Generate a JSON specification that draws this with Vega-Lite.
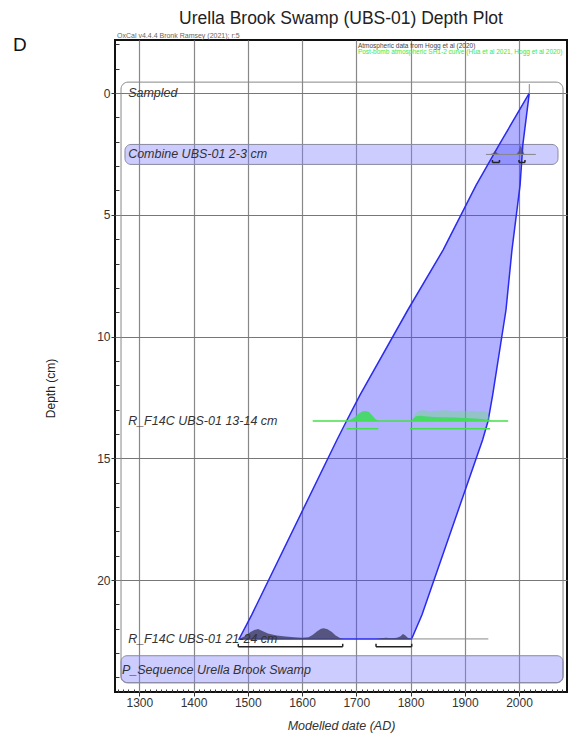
{
  "$schema": "https://vega.github.io/schema/vega-lite/v6.json",
  "width": 452,
  "height": 652,
  "autosize": {"type": "none"},
  "padding": {"left": 115, "top": 40, "right": 20, "bottom": 43},
  "background": "white",
  "config": {"font": "Liberation Sans", "view": {"stroke": "#111", "strokeWidth": 2}},
  "title": {"text": "Urella Brook Swamp (UBS-01) Depth Plot", "fontSize": 17.5, "fontWeight": "normal", "font": "Liberation Sans", "color": "#222", "anchor": "middle", "frame": "group", "offset": 4},
  "datasets": {
    "outer": [{"year": 1266.3, "year_end": 2081.2, "depth": -0.45, "depth_end": 24.22}],
    "boxes": [
      {"year": 1273.6, "year_end": 2071.9, "depth": 2.11, "depth_end": 2.93},
      {"year": 1266.3, "year_end": 2081.2, "depth": 23.11, "depth_end": 24.22}
    ],
    "envelope": [
      {"depth": 0, "year": 2019, "year_end": 2019},
      {"depth": 2.14, "year": 1963, "year_end": 2007},
      {"depth": 3.78, "year": 1921, "year_end": 2002},
      {"depth": 6.45, "year": 1860, "year_end": 1987},
      {"depth": 8.91, "year": 1795, "year_end": 1976},
      {"depth": 12.4, "year": 1707, "year_end": 1951.5},
      {"depth": 13.47, "year": 1682, "year_end": 1943},
      {"depth": 14.24, "year": 1664.5, "year_end": 1933},
      {"depth": 21.44, "year": 1507, "year_end": 1821},
      {"depth": 22.42, "year": 1484, "year_end": 1802}
    ],
    "green_light": [
      {"year": 1803, "depth": 13.47, "depth_end": 13.47},
      {"year": 1808, "depth": 13.17, "depth_end": 13.47},
      {"year": 1815, "depth": 13.05, "depth_end": 13.47},
      {"year": 1825, "depth": 13.03, "depth_end": 13.47},
      {"year": 1835, "depth": 13.07, "depth_end": 13.47},
      {"year": 1850, "depth": 13.05, "depth_end": 13.47},
      {"year": 1865, "depth": 13.03, "depth_end": 13.47},
      {"year": 1880, "depth": 13.07, "depth_end": 13.47},
      {"year": 1895, "depth": 13.05, "depth_end": 13.47},
      {"year": 1910, "depth": 13.06, "depth_end": 13.47},
      {"year": 1925, "depth": 13.07, "depth_end": 13.47},
      {"year": 1940, "depth": 13.09, "depth_end": 13.47},
      {"year": 1946, "depth": 13.37, "depth_end": 13.47},
      {"year": 1948, "depth": 13.47, "depth_end": 13.47}
    ],
    "green_dist": [
      {"year": 1680, "depth": 13.47, "depth_end": 13.47},
      {"year": 1688, "depth": 13.43, "depth_end": 13.47},
      {"year": 1695, "depth": 13.35, "depth_end": 13.47},
      {"year": 1700, "depth": 13.25, "depth_end": 13.47},
      {"year": 1706, "depth": 13.14, "depth_end": 13.47},
      {"year": 1712, "depth": 13.07, "depth_end": 13.47},
      {"year": 1718, "depth": 13.06, "depth_end": 13.47},
      {"year": 1724, "depth": 13.11, "depth_end": 13.47},
      {"year": 1730, "depth": 13.25, "depth_end": 13.47},
      {"year": 1735, "depth": 13.39, "depth_end": 13.47},
      {"year": 1740, "depth": 13.45, "depth_end": 13.47},
      {"year": 1745, "depth": 13.47, "depth_end": 13.47},
      {"year": 1800, "depth": 13.47, "depth_end": 13.47},
      {"year": 1804, "depth": 13.39, "depth_end": 13.47},
      {"year": 1810, "depth": 13.27, "depth_end": 13.47},
      {"year": 1818, "depth": 13.25, "depth_end": 13.47},
      {"year": 1830, "depth": 13.28, "depth_end": 13.47},
      {"year": 1845, "depth": 13.3, "depth_end": 13.47},
      {"year": 1860, "depth": 13.32, "depth_end": 13.47},
      {"year": 1880, "depth": 13.33, "depth_end": 13.47},
      {"year": 1900, "depth": 13.35, "depth_end": 13.47},
      {"year": 1920, "depth": 13.37, "depth_end": 13.47},
      {"year": 1935, "depth": 13.4, "depth_end": 13.47},
      {"year": 1945, "depth": 13.45, "depth_end": 13.47},
      {"year": 1950, "depth": 13.47, "depth_end": 13.47}
    ],
    "dark_dist": [
      {"year": 1484, "depth": 22.42, "depth_end": 22.42},
      {"year": 1495, "depth": 22.3, "depth_end": 22.42},
      {"year": 1505, "depth": 22.14, "depth_end": 22.42},
      {"year": 1512, "depth": 22.05, "depth_end": 22.42},
      {"year": 1519, "depth": 22.01, "depth_end": 22.42},
      {"year": 1527, "depth": 22.09, "depth_end": 22.42},
      {"year": 1537, "depth": 22.2, "depth_end": 22.42},
      {"year": 1553, "depth": 22.28, "depth_end": 22.42},
      {"year": 1570, "depth": 22.32, "depth_end": 22.42},
      {"year": 1585, "depth": 22.35, "depth_end": 22.42},
      {"year": 1600, "depth": 22.37, "depth_end": 22.42},
      {"year": 1612, "depth": 22.35, "depth_end": 22.42},
      {"year": 1620, "depth": 22.25, "depth_end": 22.42},
      {"year": 1628, "depth": 22.1, "depth_end": 22.42},
      {"year": 1635, "depth": 22.0, "depth_end": 22.42},
      {"year": 1640, "depth": 21.98, "depth_end": 22.42},
      {"year": 1647, "depth": 22.02, "depth_end": 22.42},
      {"year": 1655, "depth": 22.14, "depth_end": 22.42},
      {"year": 1662, "depth": 22.28, "depth_end": 22.42},
      {"year": 1670, "depth": 22.38, "depth_end": 22.42},
      {"year": 1676, "depth": 22.42, "depth_end": 22.42},
      {"year": 1737, "depth": 22.42, "depth_end": 22.42},
      {"year": 1745, "depth": 22.39, "depth_end": 22.42},
      {"year": 1755, "depth": 22.37, "depth_end": 22.42},
      {"year": 1765, "depth": 22.39, "depth_end": 22.42},
      {"year": 1775, "depth": 22.37, "depth_end": 22.42},
      {"year": 1781, "depth": 22.32, "depth_end": 22.42},
      {"year": 1786, "depth": 22.22, "depth_end": 22.42},
      {"year": 1790, "depth": 22.27, "depth_end": 22.42},
      {"year": 1795, "depth": 22.37, "depth_end": 22.42},
      {"year": 1801, "depth": 22.42, "depth_end": 22.42}
    ],
    "combine_dist": [
      {"year": 1945, "depth": 2.52, "depth_end": 2.52},
      {"year": 1952, "depth": 2.47, "depth_end": 2.52},
      {"year": 1956, "depth": 2.37, "depth_end": 2.52},
      {"year": 1960, "depth": 2.47, "depth_end": 2.52},
      {"year": 1966, "depth": 2.52, "depth_end": 2.52},
      {"year": 1995, "depth": 2.52, "depth_end": 2.52},
      {"year": 2000, "depth": 2.37, "depth_end": 2.52},
      {"year": 2003, "depth": 2.14, "depth_end": 2.52},
      {"year": 2006, "depth": 2.32, "depth_end": 2.52},
      {"year": 2010, "depth": 2.5, "depth_end": 2.52},
      {"year": 2013, "depth": 2.52, "depth_end": 2.52}
    ],
    "gray_lines": [
      {"year": 1939, "year_end": 2031, "depth": 2.52, "depth_end": 2.52},
      {"year": 1802, "year_end": 1943.5, "depth": 22.42, "depth_end": 22.42},
      {"year": 2019, "year_end": 2019, "depth": -0.37, "depth_end": 0.04}
    ],
    "green_lines": [
      {"year": 1619.7, "year_end": 1980, "depth": 13.47, "depth_end": 13.47},
      {"year": 1682, "year_end": 1740.6, "depth": 13.79, "depth_end": 13.79},
      {"year": 1799, "year_end": 1946.6, "depth": 13.79, "depth_end": 13.79}
    ],
    "black_lines": [
      {"year": 1482.5, "year_end": 1675, "depth": 22.74, "depth_end": 22.74},
      {"year": 1482.5, "year_end": 1482.5, "depth": 22.62, "depth_end": 22.74},
      {"year": 1675, "year_end": 1675, "depth": 22.62, "depth_end": 22.74},
      {"year": 1736.4, "year_end": 1802.2, "depth": 22.74, "depth_end": 22.74},
      {"year": 1736.4, "year_end": 1736.4, "depth": 22.62, "depth_end": 22.74},
      {"year": 1802.2, "year_end": 1802.2, "depth": 22.62, "depth_end": 22.74},
      {"year": 1951, "year_end": 1964, "depth": 2.85, "depth_end": 2.85},
      {"year": 1951, "year_end": 1951, "depth": 2.75, "depth_end": 2.85},
      {"year": 1964, "year_end": 1964, "depth": 2.75, "depth_end": 2.85},
      {"year": 2000, "year_end": 2011, "depth": 2.85, "depth_end": 2.85},
      {"year": 2000, "year_end": 2000, "depth": 2.75, "depth_end": 2.85},
      {"year": 2011, "year_end": 2011, "depth": 2.75, "depth_end": 2.85}
    ],
    "labels": [
      {"year": 1279.4, "depth": 0, "label": "Sampled"},
      {"year": 1279.4, "depth": 2.52, "label": "Combine UBS-01 2-3 cm"},
      {"year": 1279.4, "depth": 13.45, "label": "R_F14C UBS-01 13-14 cm"},
      {"year": 1279.4, "depth": 22.42, "label": "R_F14C UBS-01 21-24 cm"},
      {"year": 1268, "depth": 23.7, "label": "P_Sequence Urella Brook Swamp"}
    ],
    "panel": [{"year": 1080, "depth": -1.97, "label": "D"}],
    "credit": [{"year": 1259, "depth": -2.36, "label": "OxCal v4.4.4 Bronk Ramsey (2021); r:5"}],
    "note": [{"year": 1703, "depth": -1.95, "label": "Atmospheric data from Hogg et al (2020)"}],
    "note_green": [{"year": 1703, "depth": -1.68, "label": "Post-bomb atmospheric SH1-2 curve (Hua et al 2021, Hogg et al 2020)"}]
  },
  "layer": [
    {
      "data": {"name": "outer"},
      "mark": {"type": "rect", "fill": null, "stroke": "#888", "strokeWidth": 1, "cornerRadius": 7},
      "encoding": {
        "x": {"field": "year", "type": "quantitative",
          "scale": {"domain": [1255.2, 2088.5], "nice": false, "zero": false},
          "axis": {
            "title": "Modelled date (AD)", "titleFontStyle": "italic", "titleFontWeight": "normal", "titleFontSize": 12.5, "titleColor": "#333", "titleY": 33, "titleBaseline": "middle",
            "tickCount": 1000,
            "values": [1260,1270,1280,1290,1300,1310,1320,1330,1340,1350,1360,1370,1380,1390,1400,1410,1420,1430,1440,1450,1460,1470,1480,1490,1500,1510,1520,1530,1540,1550,1560,1570,1580,1590,1600,1610,1620,1630,1640,1650,1660,1670,1680,1690,1700,1710,1720,1730,1740,1750,1760,1770,1780,1790,1800,1810,1820,1830,1840,1850,1860,1870,1880,1890,1900,1910,1920,1930,1940,1950,1960,1970,1980,1990,2000,2010,2020,2030,2040,2050,2060,2070,2080],
            "format": "d",
            "labelExpr": "datum.value % 100 === 0 ? datum.label : ''",
            "labelFontSize": 12, "labelColor": "#333", "labelOverlap": false, "labelFlush": false, "labelPadding": 1,
            "grid": true, "gridColor": "#888", "gridWidth": 1.2,
            "gridOpacity": {"condition": {"test": "datum.value % 100 === 0", "value": 1}, "value": 0},
            "tickColor": "#333",
            "tickSize": {"condition": {"test": "datum.value % 100 === 0", "value": 4}, "value": -3},
            "domain": false
          }
        },
        "x2": {"field": "year_end"},
        "y": {"field": "depth", "type": "quantitative",
          "scale": {"domain": [-2.18, 24.6], "reverse": true, "nice": false, "zero": false},
          "axis": {
            "title": "Depth (cm)", "titleFontWeight": "normal", "titleFontSize": 12, "titleColor": "#222",
            "titleX": -65, "titleY": 348, "titleAngle": 270, "titleAlign": "center", "titleBaseline": "middle",
            "tickCount": 1000,
            "values": [-2,-1.5,-1,-0.5,0,0.5,1,1.5,2,2.5,3,3.5,4,4.5,5,5.5,6,6.5,7,7.5,8,8.5,9,9.5,10,10.5,11,11.5,12,12.5,13,13.5,14,14.5,15,15.5,16,16.5,17,17.5,18,18.5,19,19.5,20,20.5,21,21.5,22,22.5,23,23.5,24,24.5],
            "format": "d",
            "labelExpr": "datum.value % 5 === 0 ? datum.label : ''",
            "labelFontSize": 12, "labelColor": "#333", "labelOverlap": false, "labelFlush": false, "labelPadding": 1,
            "grid": true, "gridColor": "#777", "gridWidth": 1.2,
            "gridOpacity": {"condition": {"test": "datum.value % 5 === 0", "value": 1}, "value": 0},
            "tickColor": "#333",
            "tickSize": {"condition": {"test": "datum.value % 5 === 0", "value": 4}, "value": -4},
            "domain": false
          }
        },
        "y2": {"field": "depth_end"}
      }
    },
    {
      "data": {"name": "boxes"},
      "mark": {"type": "rect", "fill": "#8080ff", "fillOpacity": 0.4, "stroke": "#8a8aa0", "strokeWidth": 1, "cornerRadius": 6},
      "encoding": {
        "x": {"field": "year", "type": "quantitative"},
        "x2": {"field": "year_end"},
        "y": {"field": "depth", "type": "quantitative"},
        "y2": {"field": "depth_end"}
      }
    },
    {
      "data": {"name": "envelope"},
      "mark": {"type": "area", "orient": "horizontal", "fill": "#4646ff", "fillOpacity": 0.42, "stroke": "#2a2aee", "strokeWidth": 1.5},
      "encoding": {
        "y": {"field": "depth", "type": "quantitative"},
        "x": {"field": "year", "type": "quantitative"},
        "x2": {"field": "year_end"}
      }
    },
    {
      "data": {"name": "green_light"},
      "mark": {"type": "area", "orient": "vertical", "fill": "#66dd77", "fillOpacity": 0.4},
      "encoding": {
        "x": {"field": "year", "type": "quantitative"},
        "y": {"field": "depth", "type": "quantitative"},
        "y2": {"field": "depth_end"}
      }
    },
    {
      "data": {"name": "green_dist"},
      "mark": {"type": "area", "orient": "vertical", "fill": "#3fdc60", "fillOpacity": 0.9},
      "encoding": {
        "x": {"field": "year", "type": "quantitative"},
        "y": {"field": "depth", "type": "quantitative"},
        "y2": {"field": "depth_end"}
      }
    },
    {
      "data": {"name": "dark_dist"},
      "mark": {"type": "area", "orient": "vertical", "fill": "#45456a", "fillOpacity": 0.85},
      "encoding": {
        "x": {"field": "year", "type": "quantitative"},
        "y": {"field": "depth", "type": "quantitative"},
        "y2": {"field": "depth_end"}
      }
    },
    {
      "data": {"name": "combine_dist"},
      "mark": {"type": "area", "orient": "vertical", "fill": "#45456a", "fillOpacity": 0.7},
      "encoding": {
        "x": {"field": "year", "type": "quantitative"},
        "y": {"field": "depth", "type": "quantitative"},
        "y2": {"field": "depth_end"}
      }
    },
    {
      "data": {"name": "gray_lines"},
      "mark": {"type": "rule", "color": "#888", "strokeWidth": 1},
      "encoding": {
        "x": {"field": "year", "type": "quantitative"},
        "x2": {"field": "year_end"},
        "y": {"field": "depth", "type": "quantitative"},
        "y2": {"field": "depth_end"}
      }
    },
    {
      "data": {"name": "green_lines"},
      "mark": {"type": "rule", "color": "#44e04a", "strokeWidth": 1.5},
      "encoding": {
        "x": {"field": "year", "type": "quantitative"},
        "x2": {"field": "year_end"},
        "y": {"field": "depth", "type": "quantitative"},
        "y2": {"field": "depth_end"}
      }
    },
    {
      "data": {"name": "black_lines"},
      "mark": {"type": "rule", "color": "#222", "strokeWidth": 1.5},
      "encoding": {
        "x": {"field": "year", "type": "quantitative"},
        "x2": {"field": "year_end"},
        "y": {"field": "depth", "type": "quantitative"},
        "y2": {"field": "depth_end"}
      }
    },
    {
      "data": {"name": "labels"},
      "mark": {"type": "text", "align": "left", "baseline": "middle", "fontSize": 12.5, "fontStyle": "italic", "color": "#333"},
      "encoding": {
        "x": {"field": "year", "type": "quantitative"},
        "y": {"field": "depth", "type": "quantitative"},
        "text": {"field": "label"}
      }
    },
    {
      "data": {"name": "panel"},
      "mark": {"type": "text", "align": "center", "baseline": "middle", "fontSize": 19, "color": "#111"},
      "encoding": {
        "x": {"field": "year", "type": "quantitative"},
        "y": {"field": "depth", "type": "quantitative"},
        "text": {"field": "label"}
      }
    },
    {
      "data": {"name": "credit"},
      "mark": {"type": "text", "align": "left", "baseline": "middle", "fontSize": 7, "color": "#666"},
      "encoding": {
        "x": {"field": "year", "type": "quantitative"},
        "y": {"field": "depth", "type": "quantitative"},
        "text": {"field": "label"}
      }
    },
    {
      "data": {"name": "note"},
      "mark": {"type": "text", "align": "left", "baseline": "middle", "fontSize": 6.5, "color": "#444"},
      "encoding": {
        "x": {"field": "year", "type": "quantitative"},
        "y": {"field": "depth", "type": "quantitative"},
        "text": {"field": "label"}
      }
    },
    {
      "data": {"name": "note_green"},
      "mark": {"type": "text", "align": "left", "baseline": "middle", "fontSize": 6.5, "color": "#3ee83e", "clip": true},
      "encoding": {
        "x": {"field": "year", "type": "quantitative"},
        "y": {"field": "depth", "type": "quantitative"},
        "text": {"field": "label"}
      }
    }
  ]
}
